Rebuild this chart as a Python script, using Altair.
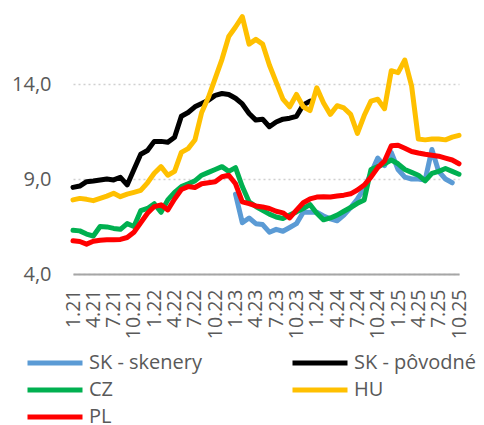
import altair as alt
import pandas as pd

# month labels (1.21 ... 10.25)
mesiace = [f"{m}.{r}" for r in range(21, 26) for m in range(1, 13)][:58]
tick_labels = mesiace[::3]

serie = ["SK - skenery", "SK - pôvodné", "CZ", "HU", "PL"]
farby = ["#5B9BD5", "#000000", "#00B050", "#FFC000", "#FF0000"]
# legend is filled column by column: this order gives the reference's rows
legend_order = ["SK - skenery", "CZ", "PL", "SK - pôvodné", "HU"]
legend_farby = ["#5B9BD5", "#00B050", "#FF0000", "#000000", "#FFC000"]

sk_skenery = [None] * 24 + [
    8.2, 6.7, 6.95, 6.65, 6.6, 6.2, 6.35, 6.25, 6.45, 6.65,
    7.25, 7.25, 7.25, 7.05, 6.9, 6.8, 7.1, 7.5, 7.95, 8.5,
    9.3, 10.1, 9.7, 10.4, 9.5, 9.1, 9.0, 9.0, 8.95, 10.55,
    9.4, 9.0, 8.8,
] + [None]

sk_povodne = [
    8.56, 8.63, 8.86, 8.9, 8.95, 9.0, 8.95, 9.09, 8.69, 9.5,
    10.3, 10.5, 10.98, 10.98, 10.93, 11.2, 12.3, 12.5, 12.8, 12.97,
    13.15, 13.4, 13.5, 13.45, 13.25, 12.95, 12.45, 12.1, 12.15, 11.75,
    12.0, 12.15, 12.2, 12.3, 12.9, 13.1,
] + [None] * 22

cz = [
    6.3, 6.27, 6.1, 6.0, 6.5, 6.48, 6.4, 6.35, 6.65, 6.5,
    7.33, 7.45, 7.7, 7.25, 7.9, 8.3, 8.6, 8.75, 8.9, 9.2,
    9.35, 9.5, 9.65, 9.4, 9.6, 8.6, 7.8, 7.55, 7.35, 7.15,
    7.0, 6.92, 7.1, 7.27, 7.45, 7.65, 7.2, 6.85, 6.95, 7.1,
    7.3, 7.5, 7.72, 7.9, 9.5, 9.65, 9.8, 10.0, 9.8, 9.5,
    9.35, 9.2, 8.9, 9.3, 9.4, 9.55, 9.4, 9.25,
]

hu = [
    7.9, 7.98, 7.93, 7.86, 7.98, 8.1, 8.25, 8.07, 8.2, 8.3,
    8.4, 8.8, 9.3, 9.65, 9.2, 9.4, 10.4, 10.6, 11.05, 12.5,
    13.3, 14.3, 15.3, 16.5, 17.0, 17.55, 16.1, 16.35, 16.1, 15.0,
    14.1, 13.2, 12.8, 13.45, 12.8, 12.6, 13.8, 13.0, 12.4, 12.86,
    12.74, 12.4, 11.4, 12.34, 13.1, 13.2, 12.7, 14.7, 14.6, 15.26,
    13.9, 11.1, 11.06, 11.1, 11.1, 11.06, 11.2, 11.3,
]

pl = [
    5.75, 5.71, 5.57, 5.72, 5.78, 5.8, 5.8, 5.82, 5.92, 6.2,
    6.7, 7.2, 7.55, 7.64, 7.37, 7.95, 8.45, 8.6, 8.55, 8.75,
    8.8, 8.85, 9.12, 9.2, 8.75, 7.8, 7.7, 7.58, 7.53, 7.45,
    7.3, 7.22, 6.95, 7.36, 7.75, 7.95, 8.05, 8.07, 8.05, 8.1,
    8.15, 8.22, 8.42, 8.68, 9.1, 9.6, 9.95, 10.75, 10.78, 10.62,
    10.45, 10.37, 10.3, 10.25, 10.2, 10.1, 10.0, 9.8,
]

rows = []
for name, vals in zip(serie, [sk_skenery, sk_povodne, cz, hu, pl]):
    for idx, (m, v) in enumerate(zip(mesiace, vals)):
        if v is not None:
            rows.append({"idx": idx, "mesiac": m, "hodnota": v, "seria": name})
df = pd.DataFrame(rows)

font = "Open Sans"
txt = "#595959"

chart = (
    alt.Chart(df)
    .mark_line(strokeWidth=5, strokeCap="round", strokeJoin="round")
    .encode(
        x=alt.X(
            "mesiac:O",
            scale=alt.Scale(type="point", padding=0, domain=mesiace),
            axis=alt.Axis(
                values=tick_labels, labelAngle=270, title=None, ticks=False,
                domain=True, domainColor="#A6A6A6", domainWidth=2, grid=False,
                labelFont=font, labelFontSize=19.5, labelColor=txt, labelPadding=15,
            ),
        ),
        y=alt.Y(
            "hodnota:Q",
            scale=alt.Scale(domain=[4, 18], nice=False, zero=False),
            axis=alt.Axis(
                values=[4, 9, 14],
                labelExpr="replace(format(datum.value, '.1f'), '.', ',')",
                title=None, ticks=False, domain=False, grid=True,
                gridDash=[2, 3], gridColor="#D0D0D0", gridWidth=1.3,
                labelFont=font, labelFontSize=20, labelColor=txt, labelPadding=22,
            ),
        ),
        color=alt.Color(
            "seria:N",
            scale=alt.Scale(domain=legend_order, range=legend_farby),
            legend=alt.Legend(
                title=None, orient="none", legendX=-48, legendY=344,
                columns=2, symbolType="stroke", symbolSize=3025,
                symbolStrokeWidth=5, labelFont=font, labelFontSize=20,
                labelColor=txt, labelOffset=4, columnPadding=88,
                rowPadding=5, clipHeight=22, padding=0,
            ),
        ),
        order=alt.Order("idx:Q"),
    )
    .properties(
        width=386,
        height=266,
        autosize=alt.AutoSizeParams(type="none"),
        padding={"left": 65, "top": 0, "right": 17, "bottom": 151},
        background="white",
    )
    .configure_view(stroke=None)
)

chart.save("out.html", embed_options={"renderer": "svg", "actions": False})
